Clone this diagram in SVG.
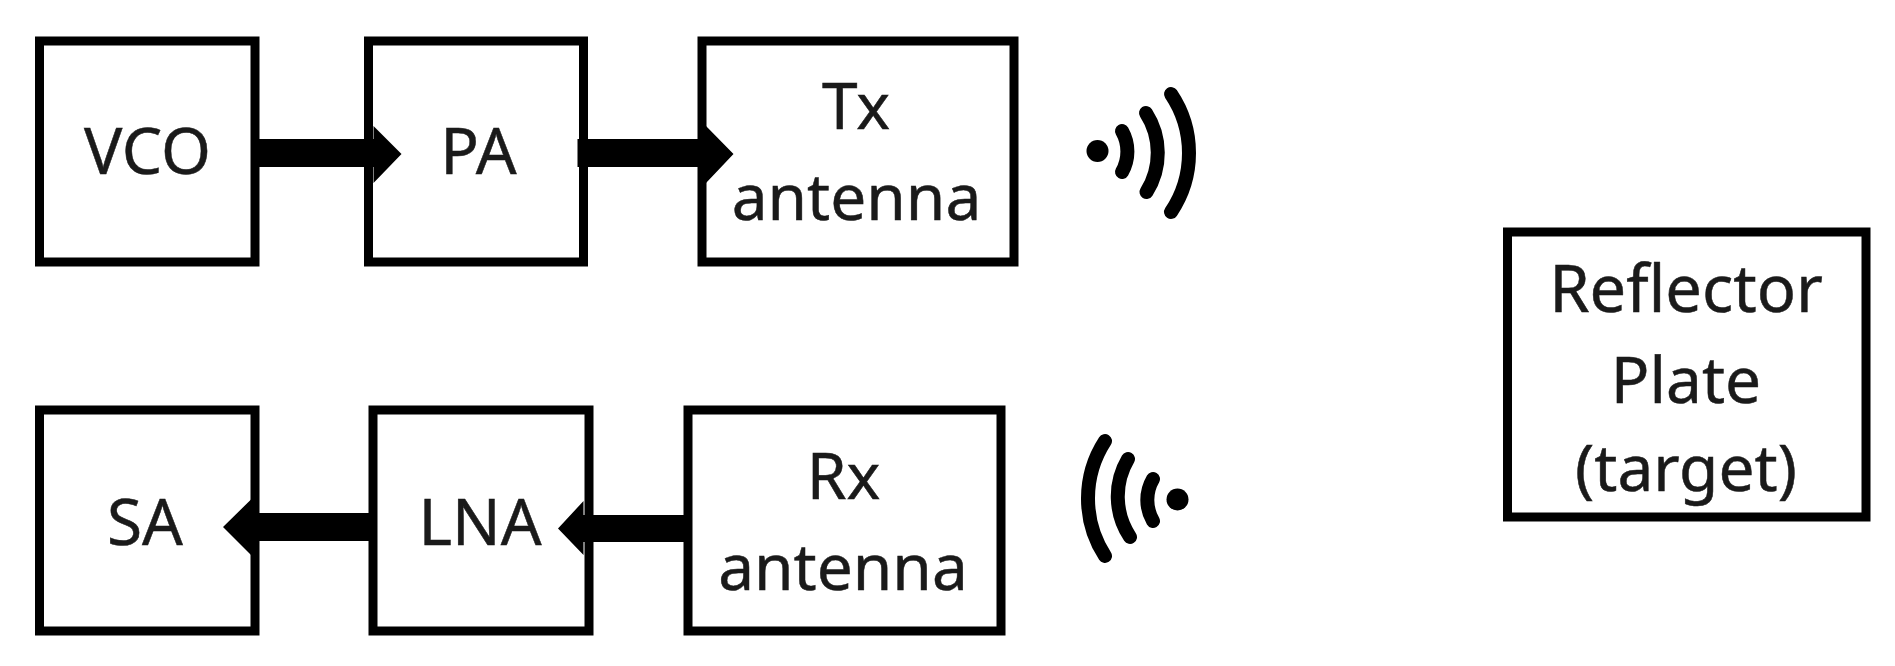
<svg xmlns="http://www.w3.org/2000/svg" width="1895" height="666" viewBox="0 0 1895 666">
<style>
.box{fill:#fff;stroke:#000;stroke-width:9}
.t{font-family:"Noto Sans","Open Sans",sans-serif;font-size:64px;fill:#1a1a1a;stroke:#1a1a1a;stroke-width:.5;text-anchor:middle}
.wave{fill:none;stroke:#000;stroke-width:14;stroke-linecap:round}
.arrow{fill:#000}
</style>
<rect width="1895" height="666" fill="#fff"/>
<g id="node-vco"><rect class="box" x="39.500" y="41" width="215.500" height="221"/><text class="t" x="147.500" y="174">VCO</text></g>
<g id="node-pa"><rect class="box" x="368.500" y="41" width="215" height="221"/><text class="t" x="478.500" y="174">PA</text></g>
<g id="node-tx"><rect class="box" x="702" y="41" width="312" height="221"/><text class="t" x="856" y="129">Tx</text><text class="t" x="856.500" y="220">antenna</text></g>
<g id="node-sa"><rect class="box" x="39.500" y="410" width="215.500" height="221"/><text class="t" x="145" y="544.500">SA</text></g>
<g id="node-lna"><rect class="box" x="373" y="410" width="216" height="221"/><text class="t" x="480" y="544.500">LNA</text></g>
<g id="node-rx"><rect class="box" x="688" y="410" width="313" height="221"/><text class="t" x="843.500" y="498.500">Rx</text><text class="t" x="843" y="590">antenna</text></g>
<g id="node-reflector"><rect class="box" x="1507.500" y="232" width="358.500" height="285"/><text class="t" style="font-size:65px" x="1686" y="312">Reflector</text><text class="t" x="1686" y="403">Plate</text><text class="t" x="1686" y="490.500">(target)</text></g>
<g id="tx-waves"><circle cx="1097.500" cy="151" r="11"/><path class="wave" d="M1122 131A41.600 41.600 0 0 1 1122 172"/><path class="wave" d="M1146 113A73.500 73.500 0 0 1 1146.500 192"/><path class="wave" d="M1171 94A105.700 105.700 0 0 1 1171 212"/></g>
<g id="rx-waves"><circle cx="1177.500" cy="499.500" r="11"/><path class="wave" d="M1153 479A41.600 41.600 0 0 0 1153 521"/><path class="wave" d="M1128 459A73.500 73.500 0 0 0 1130 537"/><path class="wave" d="M1105 441A105.700 105.700 0 0 0 1105 556"/></g>
<g id="connectors">
<polygon class="arrow" points="257,139 373.500,139 373.500,126 401.500,154 373.500,183 373.500,167 257,167"/>
<polygon class="arrow" points="577.500,139 706,139 706,126 733.500,154 706,183 706,167 577.500,167"/>
<polygon class="arrow" points="369,513 251,513 251,499.500 223,527 251,555 251,541 369,541"/>
<polygon class="arrow" points="686,515 583.500,515 583.500,501 558,528.500 583.500,555 583.500,542 686,542"/>
</g>
</svg>
